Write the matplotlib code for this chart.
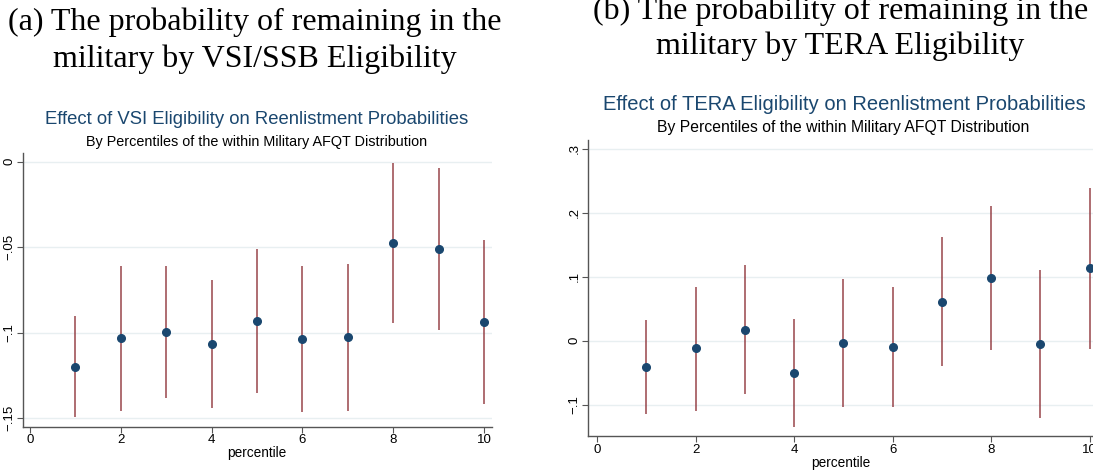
import numpy as np
import matplotlib
matplotlib.use('Agg')
import matplotlib.pyplot as plt

# VSI/SSB eligibility effect by AFQT percentile (point estimate, CI low, CI high)
pct = [1, 2, 3, 4, 5, 6, 7, 8, 9, 10]
vsi_est = [-0.1198, -0.1033, -0.0994, -0.1066, -0.0929, -0.1038, -0.1027, -0.0473, -0.0510, -0.0935]
vsi_lo = [-0.1494, -0.1455, -0.1379, -0.1442, -0.1350, -0.1465, -0.1455, -0.0941, -0.0984, -0.1416]
vsi_hi = [-0.0902, -0.0610, -0.0610, -0.0692, -0.0510, -0.0610, -0.0598, -0.0006, -0.0035, -0.0458]

# TERA eligibility effect
tera_est = [-0.0411, -0.0120, 0.0172, -0.0505, -0.0042, -0.0094, 0.0609, 0.0984, -0.0052, 0.1135]
tera_lo = [-0.1151, -0.1099, -0.0828, -0.1344, -0.1031, -0.1036, -0.0396, -0.0146, -0.1208, -0.0125]
tera_hi = [0.0323, 0.0844, 0.1177, 0.0344, 0.0958, 0.0844, 0.1620, 0.2115, 0.1104, 0.2396]

vsi_ticks = [0, -0.05, -0.1, -0.15]
vsi_ticklabels = ['0', '\u2212.05', '\u2212.1', '\u2212.15']
tera_ticks = [-0.1, 0, 0.1, 0.2, 0.3]
tera_ticklabels = ['\u2212.1', '0', '.1', '.2', '.3']
x_ticks = [0, 2, 4, 6, 8, 10]

navy = '#1a476f'
maroon = '#90353b'
grid_c = '#e8eff1'
sans = 'Liberation Sans'
serif = 'Liberation Serif'

fig = plt.figure(figsize=(10.93, 4.75), dpi=100)
W, H = 1093, 475

def frac(x0, y0, x1, y1):
    return [x0 / W, 1 - y1 / H, (x1 - x0) / W, (y1 - y0) / H]

def panel(rect, est, lo, hi, yt, ytl, ylim, xlim):
    ax = fig.add_axes(rect)
    ax.vlines(pct, lo, hi, color=maroon, lw=1.2, alpha=0.85, zorder=2)
    ax.plot(pct, est, 'o', color=navy, ms=5.5, zorder=3, clip_on=False)
    ax.set_xlim(*xlim)
    ax.set_ylim(*ylim)
    ax.set_xticks(x_ticks)
    ax.set_xticklabels([str(t) for t in x_ticks], fontsize=9.5, family=sans)
    ax.set_yticks(yt)
    ax.set_yticklabels(ytl, fontsize=9.5, family=sans, rotation=90, va='center')
    for t in yt:
        ax.axhline(t, color=grid_c, lw=1.0, zorder=0)
    ax.spines['top'].set_visible(False)
    ax.spines['right'].set_visible(False)
    for s in ['left', 'bottom']:
        ax.spines[s].set_color('#555555')
        ax.spines[s].set_linewidth(1.0)
    ax.tick_params(direction='out', length=4, width=0.8, color='#555555', pad=1.5)
    ax.set_xlabel('percentile', fontsize=9.8, family=sans, labelpad=0)
    return ax

ax1 = panel(frac(22.7, 153, 491.7, 426.7), vsi_est, vsi_lo, vsi_hi,
            vsi_ticks, vsi_ticklabels, (-0.1549, 0.0051), (-0.16, 10.17))
ax2 = panel(frac(588.3, 140, 1093, 436), tera_est, tera_lo, tera_hi,
            tera_ticks, tera_ticklabels, (-0.149, 0.314), (-0.18, 10.07))

# chart titles and subtitles
fig.text(257 / W, 1 - 120 / H, 'Effect of VSI Eligibility on Reenlistment Probabilities',
         ha='center', va='center', fontsize=13.3, color=navy, family=sans)
fig.text(257 / W, 1 - 141.7 / H, 'By Percentiles of the within Military AFQT Distribution',
         ha='center', va='center', fontsize=10.4, color='black', family=sans)
fig.text(844 / W, 1 - 105 / H, 'Effect of TERA Eligibility on Reenlistment Probabilities',
         ha='center', va='center', fontsize=14.5, color=navy, family=sans)
fig.text(843 / W, 1 - 127.7 / H, 'By Percentiles of the within Military AFQT Distribution',
         ha='center', va='center', fontsize=11.3, color='black', family=sans)

# sub-figure captions
fig.text(255 / W, 1 - 22 / H, '(a) The probability of remaining in the',
         ha='center', va='center', fontsize=23, family=serif)
fig.text(255 / W, 1 - 59 / H, 'military by VSI/SSB Eligibility',
         ha='center', va='center', fontsize=23, family=serif)
fig.text(841 / W, 1 - 11 / H, '(b) The probability of remaining in the',
         ha='center', va='center', fontsize=23, family=serif)
fig.text(840 / W, 1 - 46 / H, 'military by TERA Eligibility',
         ha='center', va='center', fontsize=23, family=serif)

fig.savefig('out.png', dpi=100)
